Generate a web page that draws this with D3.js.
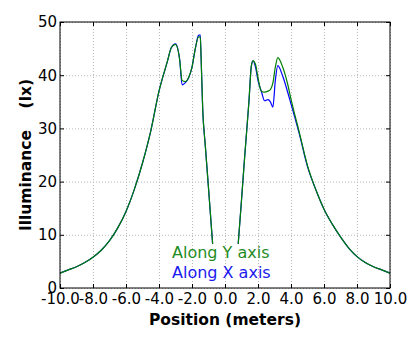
<!DOCTYPE html>
<html>
<head>
<meta charset="utf-8">
<script src="https://cdn.jsdelivr.net/npm/d3@7"></script>
<style>
  body { margin: 0; background: #fff; }
  text { font-family: "DejaVu Sans", sans-serif; }
</style>
</head>
<body>
<script>
// positions along the line (meters), null marks the gap in the middle
const position = [-10, -9.5, -9, -8.5, -8, -7.5, -7, -6.5, -6, -5.5, -5, -4.5, -4, -3.5, -3.25, -3, -2.75, -2.6, -2.4, -2.2, -2, -1.8, -1.6, -1.5, -1.45, -1.35, -1.2, -1, -0.75,
                  0,
                  0.8, 1, 1.2, 1.45, 1.6, 1.7, 1.85, 2, 2.2, 2.4, 2.6, 2.75, 2.9, 3.05, 3.2, 3.5, 3.8, 4, 4.5, 5, 5.5, 6, 6.5, 7, 7.5, 8, 8.5, 9, 9.5, 10];

const alongY = [2.8, 3.4, 4.0, 4.8, 5.8, 7.1, 8.9, 11.3, 14.4, 18.5, 23.5, 29.5, 37, 42.5, 45.2, 45.8, 43, 39, 38.8, 39.6, 41.5, 45, 47.2, 47.2, 43.5, 33.5, 27, 18.8, 8.3,
                null,
                8.3, 16.5, 25, 35, 41.8, 42.7, 42, 39.5, 37, 36.8, 37, 37.3, 38.5, 41.5, 43.3, 41.5, 38.3, 35.5, 29.3, 23, 18.5, 14.8, 12, 9.6, 7.5, 5.9, 4.8, 4.0, 3.4, 2.8];

const alongX = [2.8, 3.4, 4.0, 4.8, 5.8, 7.1, 8.9, 11.3, 14.4, 18.5, 23.5, 29.5, 37, 42.5, 45.2, 45.9, 43, 38.2, 38.6, 39.5, 41.5, 45, 47.5, 47.6, 43.5, 33.5, 27, 18.8, 8.3,
                null,
                8.3, 16.5, 25, 35, 41.8, 42.7, 41.5, 39, 37, 35.2, 35.4, 35, 34, 39, 41.8, 39.8, 36.8, 34.6, 29, 22.8, 18.5, 14.8, 12, 9.6, 7.5, 5.9, 4.8, 4.0, 3.4, 2.8];

const xTicks = [-10, -8, -6, -4, -2, 0, 2, 4, 6, 8, 10];
const yTicks = [0, 10, 20, 30, 40, 50];

class IlluminanceChart {
    constructor(config) {
        this.width = config.width;
        this.height = config.height;
        this.margin = config.margin;
        this.plotW = this.width - this.margin.left - this.margin.right;
        this.plotH = this.height - this.margin.top - this.margin.bottom;

        this.x = d3.scaleLinear().domain([-10, 10]).range([0, this.plotW]);
        this.y = d3.scaleLinear().domain([0, 50]).range([this.plotH, 0]);
    }

    init() {
        this.svg = d3.select('body')
            .append('svg')
            .attr('width', this.width)
            .attr('height', this.height);

        this.g = this.svg.append('g')
            .attr('transform', `translate(${this.margin.left}, ${this.margin.top})`);

        this.createGrid();
        this.createLines();
        this.createAxes();
        this.createLegend();
        this.createLabels();
    }

    createGrid() {
        let grid = this.g.append('g').classed('grid', true);

        grid.append('g')
            .attr('transform', `translate(0, ${this.plotH})`)
            .call(d3.axisBottom(this.x).tickValues(xTicks).tickSize(-this.plotH).tickFormat(''));
        grid.append('g')
            .call(d3.axisLeft(this.y).tickValues(yTicks).tickSize(-this.plotW).tickFormat(''));

        grid.selectAll('.domain').remove();
        grid.selectAll('line')
            .style('stroke', '#b8b8b8')
            .style('stroke-width', '1px')
            .style('stroke-dasharray', '1,2');
    }

    createLines() {
        let line = (values) => d3.line()
            .defined((d, i) => values[i] != null)
            .x(d => this.x(d))
            .y((d, i) => this.y(values[i]))
            .curve(d3.curveMonotoneX)(position);

        this.g.append('path')
            .attr('d', line(alongX))
            .style('fill', 'none')
            .style('stroke', '#0000ff')
            .style('stroke-width', '1.2px');

        this.g.append('path')
            .attr('d', line(alongY))
            .style('fill', 'none')
            .style('stroke', '#008000')
            .style('stroke-width', '1.2px');
    }

    createAxes() {
        let bottom = this.g.append('g')
            .attr('transform', `translate(0, ${this.plotH})`)
            .call(d3.axisBottom(this.x).tickValues(xTicks).tickSize(-4).tickPadding(5)
                .tickFormat(d => d.toFixed(1)));

        let left = this.g.append('g')
            .call(d3.axisLeft(this.y).tickValues(yTicks).tickSize(-4).tickPadding(3)
                .tickFormat(d => d));

        let top = this.g.append('g')
            .call(d3.axisTop(this.x).tickValues(xTicks).tickSize(-4).tickFormat(''));

        let right = this.g.append('g')
            .attr('transform', `translate(${this.plotW}, 0)`)
            .call(d3.axisRight(this.y).tickValues(yTicks).tickSize(-4).tickFormat(''));

        [bottom, left, top, right].forEach(a => {
            a.selectAll('.domain').remove();
            a.selectAll('text')
                .style('font-size', '15px')
                .style('fill', '#000');
        });

        this.g.append('rect')
            .attr('width', this.plotW)
            .attr('height', this.plotH)
            .style('fill', 'none')
            .style('stroke', '#000')
            .style('stroke-width', '1px');
    }

    createLegend() {
        this.g.append('text')
            .text('Along Y axis')
            .attr('x', 112)
            .attr('y', 236)
            .style('font-size', '16px')
            .style('fill', '#1f8c1f');

        this.g.append('text')
            .text('Along X axis')
            .attr('x', 112)
            .attr('y', 256)
            .style('font-size', '16px')
            .style('fill', '#1a1aee');
    }

    createLabels() {
        this.svg.append('text')
            .text('Position (meters)')
            .attr('x', this.margin.left + this.plotW / 2)
            .attr('y', 325)
            .attr('text-anchor', 'middle')
            .style('font-size', '15.5px')
            .style('font-weight', 'bold');

        this.svg.append('text')
            .text('Illuminance    (lx)')
            .attr('transform', `translate(31, 155) rotate(-90)`)
            .attr('text-anchor', 'middle')
            .style('white-space', 'pre')
            .style('font-size', '15.5px')
            .style('font-weight', 'bold');
    }
}

let chart = new IlluminanceChart({
    width: 414,
    height: 338,
    margin: { top: 22, right: 24, bottom: 50, left: 60 }
});
chart.init();
</script>
</body>
</html>
